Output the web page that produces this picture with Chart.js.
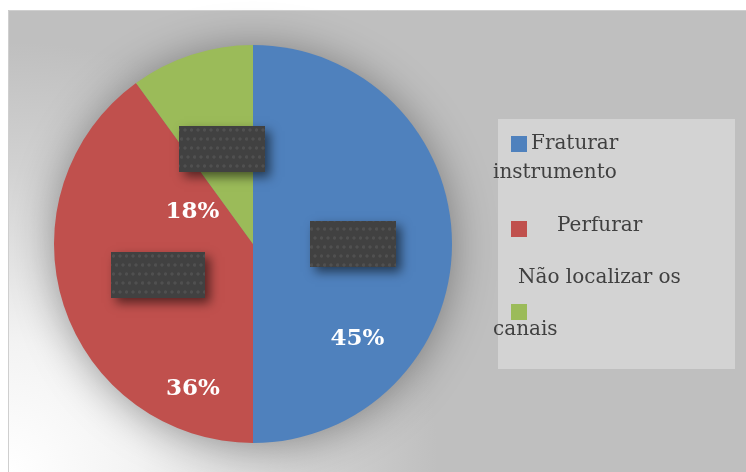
<!DOCTYPE html>
<html>
<head>
<meta charset="utf-8">
<script src="https://cdn.jsdelivr.net/npm/chart.js@4.4.1/dist/chart.umd.min.js"></script>
<style>
  html, body { margin: 0; padding: 0; background: #ffffff; }
  #chart { display: block; }
</style>
</head>
<body>
<canvas id="chart" width="746" height="472"></canvas>
<script>
// categories and values (slice sizes as drawn, printed labels as shown)
const categories = ["Fraturar instrumento", "Perfurar", "Não localizar os canais"];
const sliceValues = [50, 40, 10];
const percentLabels = ["45%", "36%", "18%"];
const sliceColors = ["#4f81bd", "#c0504d", "#9bbb59"];

// where the printed percentages sit, relative to pie centre (in radii)
const labelOffsets = [[0.525, 0.475], [-0.302, 0.723], [-0.304, -0.166]];
const boxWidths = [86, 94, 86];
const legendBreaks = [1, 1, 3]; // words on first line of each legend entry

function makePattern(ctx) {
    const tile = document.createElement('canvas');
    tile.width = 13; tile.height = 18;
    const t = tile.getContext('2d');
    t.fillStyle = '#414141';
    t.fillRect(0, 0, 13, 18);
    t.fillStyle = 'rgba(110,110,110,0.35)';
    [[3, 4], [9.5, 4], [6, 13], [12.5, 13], [-0.5, 13]].forEach(([x, y]) => {
        t.beginPath(); t.arc(x, y, 1.7, 0, Math.PI * 2); t.fill();
    });
    return ctx.createPattern(tile, 'repeat');
}

const decorPlugin = {
    id: 'decor',
    beforeDraw(chart) {
        const ctx = chart.ctx;
        ctx.save();
        ctx.fillStyle = '#ffffff';
        ctx.fillRect(0, 0, chart.width, chart.height);
        const g = ctx.createRadialGradient(8, 472, 0, 8, 472, 430);
        g.addColorStop(0, '#ffffff');
        g.addColorStop(0.3, '#f3f3f3');
        g.addColorStop(0.7, '#d2d2d2');
        g.addColorStop(1, '#bfbfbf');
        ctx.fillStyle = g;
        ctx.fillRect(8, 10, chart.width - 8, chart.height - 10);
        ctx.strokeStyle = '#cfcfcf';
        ctx.lineWidth = 1;
        ctx.beginPath();
        ctx.moveTo(8.5, chart.height); ctx.lineTo(8.5, 10.5); ctx.lineTo(chart.width, 10.5);
        ctx.stroke();
        ctx.restore();
    },
    beforeDatasetsDraw(chart) {
        const arc = chart.getDatasetMeta(0).data[0];
        const ctx = chart.ctx;
        ctx.save();
        ctx.shadowColor = 'rgba(0,0,0,0.4)';
        ctx.shadowBlur = 45;
        ctx.shadowOffsetY = 3;
        ctx.fillStyle = '#808080';
        ctx.beginPath();
        ctx.arc(arc.x, arc.y, arc.outerRadius - 2, 0, Math.PI * 2);
        ctx.fill();
        ctx.restore();
    },
    afterDatasetsDraw(chart) {
        const ctx = chart.ctx;
        const meta = chart.getDatasetMeta(0);
        const pattern = makePattern(ctx);
        ctx.save();
        // dark label boxes at slice centroids
        meta.data.forEach((arc, i) => {
            const p = arc.tooltipPosition();
            const w = boxWidths[i], h = 46;
            const x = Math.round(p.x - w / 2), y = Math.round(p.y - h / 2);
            ctx.save();
            ctx.shadowColor = 'rgba(0,0,0,0.55)';
            ctx.shadowBlur = 10;
            ctx.shadowOffsetX = 5;
            ctx.shadowOffsetY = 5;
            ctx.fillStyle = '#414141';
            ctx.fillRect(x, y, w, h);
            ctx.restore();
            ctx.fillStyle = pattern;
            ctx.fillRect(x, y, w, h);
        });
        // printed percentages
        const c = meta.data[0];
        ctx.fillStyle = '#ffffff';
        ctx.font = 'bold 23px "DejaVu Serif"';
        ctx.textAlign = 'center';
        ctx.textBaseline = 'middle';
        percentLabels.forEach((txt, i) => {
            ctx.fillText(txt, c.x + labelOffsets[i][0] * c.outerRadius,
                c.y + labelOffsets[i][1] * c.outerRadius + 1);
        });
        // legend
        ctx.fillStyle = '#d3d3d3';
        ctx.fillRect(498, 119, 237, 250);
        ctx.font = '20px "DejaVu Serif"';
        ctx.textAlign = 'left';
        ctx.textBaseline = 'alphabetic';
        const lines = categories.map((name, i) => {
            const words = name.split(' ');
            return [words.slice(0, legendBreaks[i]).join(' '), words.slice(legendBreaks[i]).join(' ')];
        });
        const layout = [
            { sq: [511, 136], first: [531, 149], second: [493, 178] },
            { sq: [511, 221], first: [557, 231], second: [493, 260] },
            { sq: [511, 304], first: [518, 283], second: [493, 335] }
        ];
        layout.forEach((l, i) => {
            ctx.fillStyle = sliceColors[i];
            ctx.fillRect(l.sq[0], l.sq[1], 16, 16);
            ctx.fillStyle = '#404040';
            ctx.fillText(lines[i][0], l.first[0], l.first[1]);
            if (lines[i][1]) ctx.fillText(lines[i][1], l.second[0], l.second[1]);
        });
        ctx.restore();
    }
};

new Chart(document.getElementById('chart').getContext('2d'), {
    type: 'pie',
    data: {
        labels: categories,
        datasets: [{
            data: sliceValues,
            backgroundColor: sliceColors,
            borderWidth: 0
        }]
    },
    options: {
        responsive: false,
        animation: false,
        layout: { padding: { left: 54, top: 45, bottom: 29, right: 294 } },
        plugins: {
            legend: { display: false },
            tooltip: { enabled: false }
        }
    },
    plugins: [decorPlugin]
});
</script>
</body>
</html>
